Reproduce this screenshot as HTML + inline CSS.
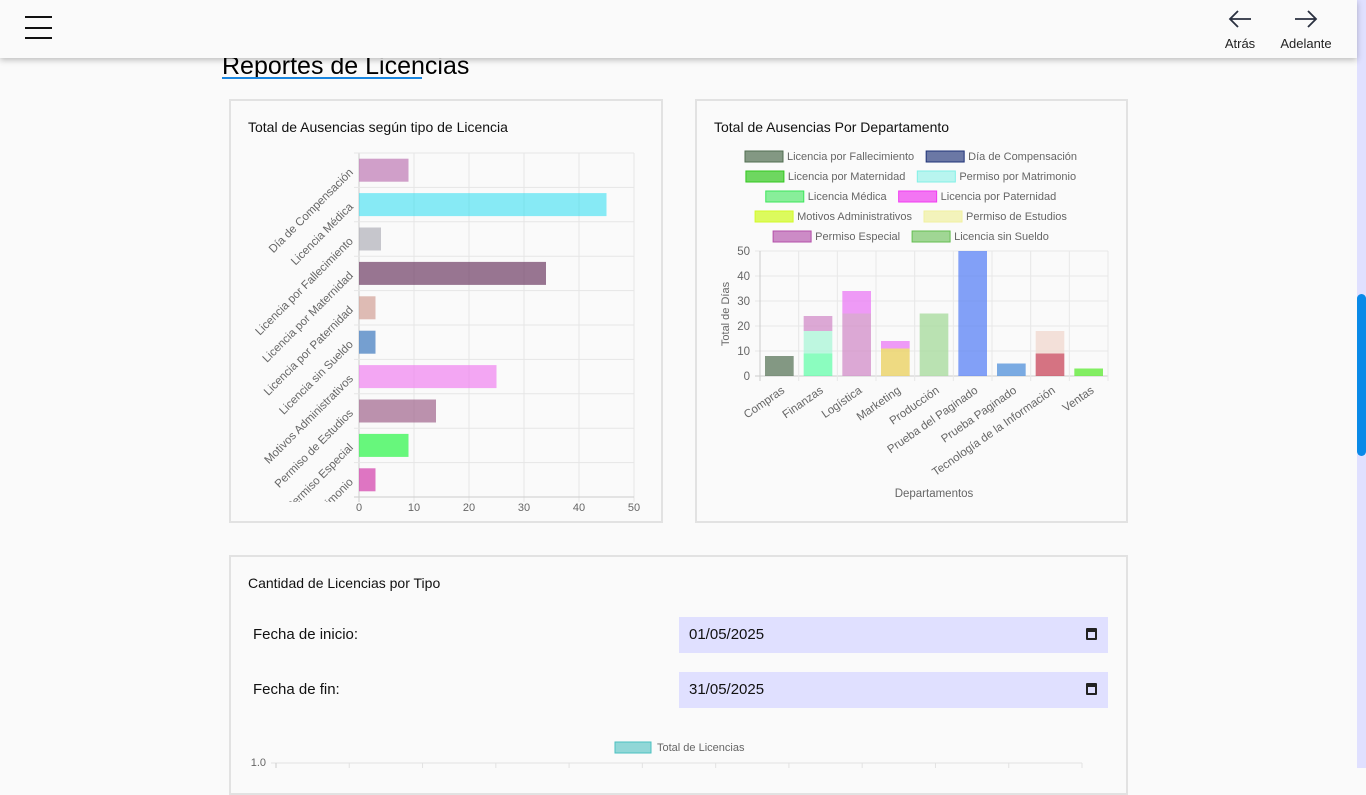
<!DOCTYPE html>
<html><head><meta charset="utf-8">
<style>
body{margin:0;width:1366px;height:768px;overflow:hidden;background:#fafafa;font-family:"Liberation Sans",sans-serif;position:relative}
.hdr{position:absolute;left:0;top:0;width:1357px;height:58px;background:#fafafa;box-shadow:0 2px 6px rgba(0,0,0,.25);z-index:5}
.card{position:absolute;border:2px solid #e2e2e2;background:#fafafa;box-sizing:border-box}
.ttl{position:absolute;font-size:14px;color:#111}
.inp{position:absolute;left:679px;width:429px;height:36px;background:#e0e0ff;font-size:15px;line-height:36px;box-sizing:border-box;padding-left:10px;color:#111}
.lbl{position:absolute;left:253px;font-size:15px;color:#111}
.cal{position:absolute;right:11px;top:11px;width:11px;height:12px;border:2px solid #222;border-top-width:4px;box-sizing:border-box;border-radius:1px}
svg text{font-family:"Liberation Sans",sans-serif}
</style></head><body>
<div class="hdr">
  <div style="position:absolute;left:25px;top:15px;width:27px;height:24px">
    <div style="position:absolute;top:1px;width:27px;height:2px;background:#111"></div>
    <div style="position:absolute;top:12px;width:27px;height:2px;background:#111"></div>
    <div style="position:absolute;top:22px;width:27px;height:2px;background:#111"></div>
  </div>
  <div style="position:absolute;left:1220px;top:9px;width:40px;text-align:center;color:#222">
    <svg width="26" height="20" viewBox="0 0 26 20"><path d="M24 10H3M11 2L3 10L11 18" fill="none" stroke="#2a3040" stroke-width="1.8"/></svg>
    <div style="font-size:13px;margin-top:2px">Atrás</div></div>
  <div style="position:absolute;left:1275px;top:9px;width:62px;text-align:center;color:#222">
    <svg width="26" height="20" viewBox="0 0 26 20"><path d="M2 10H23M15 2L23 10L15 18" fill="none" stroke="#2a3040" stroke-width="1.8"/></svg>
    <div style="font-size:13px;margin-top:2px">Adelante</div></div>
</div>
<div style="position:absolute;left:1357px;top:0;width:9px;height:768px;background:#e0e0ff"></div>
<div style="position:absolute;left:1357px;top:294px;width:9px;height:162px;background:#0a8ae8;border-radius:5px"></div>
<div style="position:absolute;left:222px;top:52px;font-size:25px;color:#000">Reportes de Licencias</div>
<div style="position:absolute;left:222px;top:77px;width:200px;height:2px;background:#1a86e0"></div>

<div class="card" style="left:229px;top:99px;width:434px;height:424px"></div>
<div class="ttl" style="left:248px;top:119px">Total de Ausencias según tipo de Licencia</div>
<div class="card" style="left:695px;top:99px;width:433px;height:424px"></div>
<div class="ttl" style="left:714px;top:119px">Total de Ausencias Por Departamento</div>
<div class="card" style="left:229px;top:555px;width:899px;height:240px"></div>
<div class="ttl" style="left:248px;top:575px">Cantidad de Licencias por Tipo</div>
<div class="lbl" style="top:626px">Fecha de inicio:</div>
<div class="inp" style="top:617px">01/05/2025<div class="cal"></div></div>
<div class="lbl" style="top:681px">Fecha de fin:</div>
<div class="inp" style="top:672px">31/05/2025<div class="cal"></div></div>

<svg id="s" width="1366" height="768" style="position:absolute;left:0;top:0">
<defs><clipPath id="c1"><rect x="231" y="140" width="430" height="362"/></clipPath></defs>
</svg>
<script>
const tipoCats=["Día de Compensación","Licencia Médica","Licencia por Fallecimiento","Licencia por Maternidad","Licencia por Paternidad","Licencia sin Sueldo","Motivos Administrativos","Permiso de Estudios","Permiso Especial","Permiso por Matrimonio"];
const tipoVals=[9,45,4,34,3,3,25,14,9,3];
const tipoColors=["rgba(190,120,180,.7)","rgba(40,220,240,.55)","rgba(170,170,180,.65)","rgba(110,60,100,.7)","rgba(210,160,150,.7)","rgba(60,120,190,.7)","rgba(240,130,240,.7)","rgba(160,100,140,.7)","rgba(40,245,70,.7)","rgba(210,60,170,.7)"];
const tipoTicks=[0,10,20,30,40,50];

const depts=["Compras","Finanzas","Logística","Marketing","Producción","Prueba del Paginado","Prueba Paginado","Tecnología de la Información","Ventas"];
const legendNames=["Licencia por Fallecimiento","Día de Compensación","Licencia por Maternidad","Permiso por Matrimonio","Licencia Médica","Licencia por Paternidad","Motivos Administrativos","Permiso de Estudios","Permiso Especial","Licencia sin Sueldo"];
const legendColors=["rgba(80,110,80,.7)","rgba(30,50,120,.65)","rgba(50,200,30,.7)","rgba(130,240,230,.55)","rgba(60,230,90,.6)","rgba(240,60,240,.7)","rgba(210,250,40,.75)","rgba(240,240,160,.7)","rgba(180,80,170,.65)","rgba(100,190,80,.6)"];
// stacked series (bottom to top)
const serFallecimiento=[8,0,0,0,0,0,0,0,0];
const serCompensacion=[0,0,0,0,0,50,0,0,0];
const serPruebaAzul=[0,0,0,0,0,0,5,0,0];
const serTecRojo=[0,0,0,0,0,0,0,9,0];
const serMaternidad=[0,0,0,0,0,0,0,0,3];
const serMedica=[0,9,0,0,0,0,0,0,0];
const serMatrimonio=[0,9,0,0,0,0,0,0,0];
const serEspecial=[0,6,25,0,0,0,0,0,0];
const serMotivos=[0,0,0,11,0,0,0,0,0];
const serPaternidad=[0,0,9,3,0,0,0,0,0];
const serEstudios=[0,0,0,0,0,0,0,9,0];
const serSinSueldo=[0,0,0,0,25,0,0,0,0];
const stackSeries=[serFallecimiento,serCompensacion,serPruebaAzul,serTecRojo,serMaternidad,serMedica,serMatrimonio,serEspecial,serMotivos,serPaternidad,serEstudios,serSinSueldo];
const stackColors=["rgba(80,110,80,.7)","rgba(90,130,245,.75)","rgba(90,150,220,.8)","rgba(200,70,90,.75)","rgba(100,235,60,.8)","rgba(80,255,160,.65)","rgba(170,245,215,.75)","rgba(210,140,200,.75)","rgba(235,210,100,.8)","rgba(235,130,245,.8)","rgba(240,215,205,.75)","rgba(170,220,160,.8)"];
const deptTicks=[0,10,20,30,40,50];
const totCats=11;
const totLegend=["Total de Licencias"];

const S=document.getElementById('s');const NS="http://www.w3.org/2000/svg";
function mk(t,a,p){const e=document.createElementNS(NS,t);for(const k in a)e.setAttribute(k,a[k]);(p||S).appendChild(e);return e;}
// chart 1
const g1=mk('g',{'clip-path':'url(#c1)'});
const x1=v=>359+v*(634-359)/50, rowH=(497-153)/tipoCats.length, y1=i=>153+i*rowH;
tipoTicks.forEach(t=>{const l=mk('line',{x1:x1(t),x2:x1(t),y1:153,y2:502,stroke:t==0?'#ccc':'#e6e6e6'},g1);
 const tx=mk('text',{x:x1(t),y:498+13,'font-size':11,fill:'#666','text-anchor':'middle'},S);tx.textContent=t;});
for(let i=0;i<=tipoCats.length;i++){mk('line',{x1:354,x2:634,y1:y1(i),y2:y1(i),stroke:i==tipoCats.length?'#ccc':'#e6e6e6'},g1);}
tipoCats.forEach((c,i)=>{const cy=y1(i)+rowH/2;
 const r=mk('rect',{x:x1(0),y:cy-11.5,width:x1(tipoVals[i])-x1(0),height:23,fill:tipoColors[i]},g1);
 const tx=mk('text',{x:351,y:cy+4,'font-size':11.5,fill:'#666','text-anchor':'end',transform:`rotate(-45 351 ${cy})`},g1);tx.textContent=c;});
// chart 2
const g2=mk('g',{});
const legRows=[[0,1],[2,3],[4,5],[6,7],[8,9]];
legRows.forEach((row,ri)=>{const y=156+ri*20;const items=[];
 row.forEach(k=>{const t=mk('text',{x:0,y:y+4,'font-size':11,fill:'#666'},g2);t.textContent=legendNames[k];items.push([k,t,t.getComputedTextLength()]);});
 const tot=items.reduce((s,it)=>s+40+4+it[2],0)+10;let x=912-tot/2;
 items.forEach(([k,t,w])=>{const r=mk('rect',{x:x,y:y-5,width:38,height:11,fill:legendColors[k],stroke:legendColors[k].replace(/[\d.]+\)$/,'1)'),'stroke-width':1},g2);
  t.setAttribute('x',x+42);x+=40+4+w+10;});});
const Y2=v=>376-v*(376-251)/50, cw=(1108-760)/depts.length, X2=i=>760+i*cw;
deptTicks.forEach(t=>{mk('line',{x1:755,x2:1108,y1:Y2(t),y2:Y2(t),stroke:t==0?'#ccc':'#e8e8e8'},g2);
 const tx=mk('text',{x:750,y:Y2(t)+4,'font-size':11.5,fill:'#666','text-anchor':'end'},g2);tx.textContent=t;});
for(let i=0;i<=depts.length;i++)mk('line',{x1:X2(i),x2:X2(i),y1:251,y2:381,stroke:i==0?'#ccc':'#e8e8e8'},g2);
depts.forEach((d,i)=>{let acc=0;stackSeries.forEach((ds,k)=>{const v=ds[i];if(!v)return;
  const r=mk('rect',{x:X2(i)+5,y:Y2(acc+v),width:cw-10,height:Y2(acc)-Y2(acc+v),fill:stackColors[k]},g2);acc+=v;});
 const cx=X2(i)+cw/2+6;const tx=mk('text',{x:cx,y:392,'font-size':11.5,fill:'#666','text-anchor':'end',transform:`rotate(-35 ${cx} 392)`},g2);tx.textContent=d;});
let t2=mk('text',{x:729,y:314,'font-size':11,fill:'#666','text-anchor':'middle',transform:'rotate(-90 729 314)'},g2);t2.textContent="Total de Días";
t2=mk('text',{x:934,y:497,'font-size':11.5,fill:'#666','text-anchor':'middle'},g2);t2.textContent="Departamentos";
// chart 3
const g3=mk('g',{});
let r3=mk('rect',{x:615,y:742,width:36,height:11,fill:'rgba(75,192,192,.6)',stroke:'rgba(75,192,192,1)'},g3);
let l3=mk('text',{x:657,y:751,'font-size':11,fill:'#666'},g3);l3.textContent=totLegend[0];
mk('line',{x1:271,x2:1082,y1:763,y2:763,stroke:'#e2e2e2'},g3);
const cw3=(1082-276)/totCats;for(let i=0;i<=totCats;i++)mk('line',{x1:276+i*cw3,x2:276+i*cw3,y1:763,y2:768,stroke:i==0?'#ccc':'#e2e2e2'},g3);
l3=mk('text',{x:266,y:766,'font-size':11,fill:'#666','text-anchor':'end'},g3);l3.textContent="1.0";
</script>
</body></html>
